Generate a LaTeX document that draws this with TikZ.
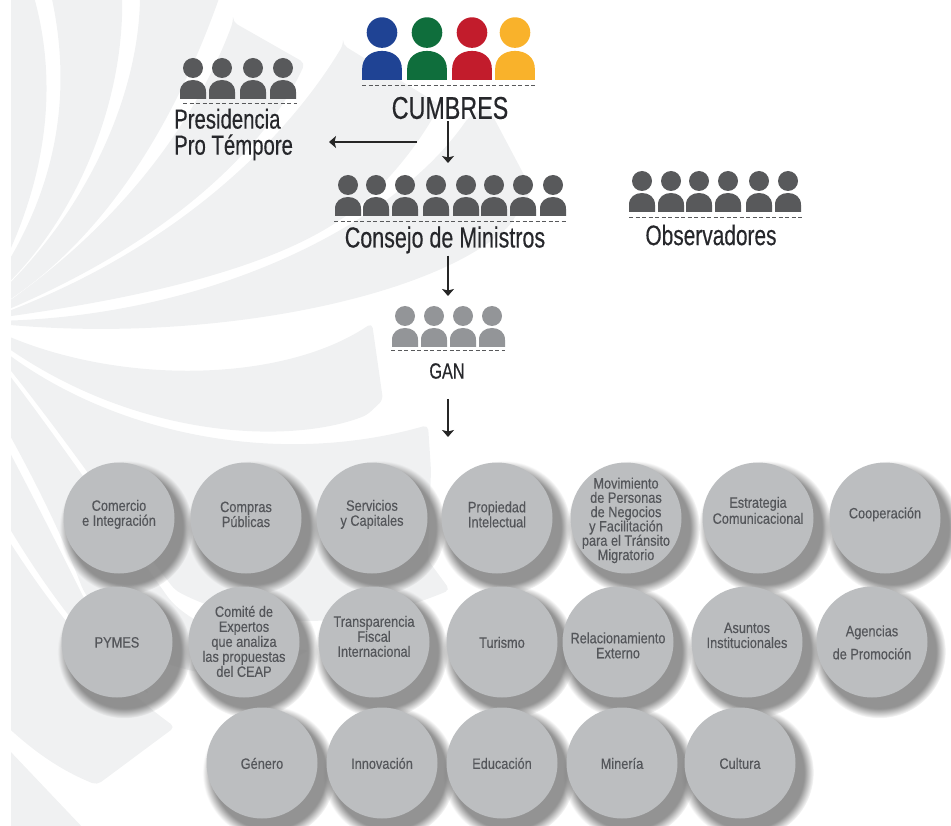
\documentclass[tikz,border=0pt]{standalone}
\usepackage{fontspec}
\usepackage{xcolor}
\setmainfont{Liberation Sans}[FakeStretch=0.74, FakeBold=0.35]
\newfontfamily\lblfont{Liberation Sans}[FakeStretch=0.85, FakeBold=0.3]
\usetikzlibrary{
    arrows.meta,
    shadows,
    positioning
}
\definecolor{raygray}{HTML}{F0F1F2}
\definecolor{circgray}{HTML}{BCBEC0}
\definecolor{labgray}{HTML}{54565A}
\definecolor{titledark}{HTML}{26272B}
\definecolor{pdark}{HTML}{58595B}
\definecolor{plight}{HTML}{939598}
\definecolor{pblue}{HTML}{1F4394}
\definecolor{pgreen}{HTML}{0F6E3C}
\definecolor{pred}{HTML}{C21C2C}
\definecolor{pyellow}{HTML}{F9B22B}
\newcommand{\circlbl}[2]{\raisebox{#1}[0pt][0pt]{\parbox{110pt}{\centering\lineskiplimit=-10pt #2}}}
\tikzset{ray/.style={fill=raygray, draw=none, rounded corners=5pt}}
\tikzset{person/.pic={\path[pic actions] (0, -31) circle[radius=10]; \path[pic actions] (-13, 0) -- (-13, -7) .. controls (-13, -15) and (-7, -19) .. (0, -19) .. controls (7, -19) and (13, -15) .. (13, -7) -- (13, 0) -- cycle;}}
\tikzset{rule/.style={dash pattern=on 4pt off 2.5pt, line width=1pt, draw=pdark}}
\tikzset{title/.style={inner sep=2pt, text=titledark, align=left}}
\tikzset{flow/.style={-{Stealth[length=7pt, width=12pt, inset=1.5pt]}, line width=1.1pt, draw=black!85}}
\tikzset{wg/.style={circle, minimum size=111pt, inner sep=0pt, fill=circgray, text=labgray, font=\lblfont\fontsize{15}{15}\selectfont, circular drop shadow={shadow xshift=6pt, shadow yshift=-8pt, shadow scale=1.2, opacity=.85}}}

\begin{document}
\begin{tikzpicture}[x=1pt, y=-1pt]
    \useasboundingbox (0, 0) rectangle (951, 826);

    \begin{scope}
    \clip (11, 0) rectangle (951, 826);
    \fill[ray] (-10, -10) -- (32, -10) .. controls (58, 80) and (50, 180) .. (-10, 290) -- cycle;
    \fill[ray] (50, -10) -- (122, -10) .. controls (125, 110) and (70, 230) .. (-10, 300) -- (-10, 290) .. controls (65, 180) and (70, 80) .. cycle;
    \fill[ray] (140, -10) -- (222, -10) .. controls (180, 110) and (110, 240) .. (-10, 312) -- (-10, 302) .. controls (90, 210) and (140, 90) .. cycle;
    \fill[ray] (233, 22) -- (305, 63) .. controls (275, 130) and (190, 235) .. (-10, 317) -- (-10, 314) .. controls (130, 220) and (200, 110) .. cycle;
    \fill[ray] (343, 45) -- (440, 105) .. controls (410, 160) and (370, 200) .. (340, 220) .. controls (260, 272) and (130, 300) .. (-10, 319) -- (-10, 318) .. controls (190, 245) and (295, 125) .. cycle;
    \fill[ray] (487, 105) -- (532, 190) -- (510, 225) .. controls (430, 300) and (200, 345) .. (-10, 323) -- (-10, 321) .. controls (200, 318) and (390, 230) .. (468, 118) -- cycle;
    \fill[ray] (-10, 328) .. controls (110, 385) and (280, 385) .. (372, 323) -- (383, 400) -- (367, 415) .. controls (290, 445) and (130, 440) .. (-10, 335) -- cycle;
    \fill[ray] (-10, 340) .. controls (100, 430) and (270, 470) .. (428, 425) -- (431, 470) -- (428, 560) -- (450, 590) .. controls (330, 640) and (230, 620) .. (175, 590) .. controls (120, 520) and (60, 430) .. (-10, 345) -- cycle;
    \fill[ray] (-10, 350) .. controls (60, 440) and (120, 530) .. (170, 600) .. controls (200, 630) and (260, 650) .. (310, 650) -- (250, 680) .. controls (170, 670) and (130, 660) .. (83, 590) .. controls (60, 530) and (30, 470) .. (-10, 400) -- cycle;
    \fill[ray] (-10, 415) .. controls (30, 490) and (60, 550) .. (85, 600) -- (150, 695) .. controls (100, 660) and (50, 600) .. (-10, 495) -- cycle;
    \fill[ray] (-10, 510) .. controls (50, 610) and (110, 680) .. (175, 727) -- (97, 785) .. controls (60, 770) and (30, 750) .. (-10, 710) -- cycle;
    \fill[raygray] (-10, 730) -- (85, 830) -- (-10, 830) -- cycle;
    \end{scope}

    \foreach \x/\c in {382/pblue, 427/pgreen, 472/pred, 515/pyellow}
        \pic[fill=\c, scale=1.53] at (\x, 80) {person};
    \foreach \x in {193, 222, 253, 283}
        \pic[fill=pdark] at (\x, 99) {person};
    \foreach \x in {348, 376, 405, 436, 466, 494, 523, 553}
        \pic[fill=pdark] at (\x, 216) {person};
    \foreach \x in {642, 671, 699, 728, 759, 788}
        \pic[fill=pdark] at (\x, 212) {person};
    \foreach \x in {405, 434, 463, 492}
        \pic[fill=plight] at (\x, 347) {person};

    \draw[rule] (362, 86) -- (535, 86);
    \draw[rule] (183, 104) -- (297, 104);
    \draw[rule] (334, 222) -- (566, 222);
    \draw[rule] (629, 218) -- (802, 218);
    \draw[rule] (391, 351) -- (505, 351);

    \node[title, font=\fontsize{31.5}{31}\selectfont] (cumbres) at (450, 108) {CUMBRES};
    \node[title, font=\fontsize{27.5}{26}\selectfont, anchor=west] (presidencia) at (172, 134.5) {Presidencia\\Pro Témpore};
    \node[title, font=\fontsize{29}{27}\selectfont] (consejo) at (445, 240) {Consejo de Ministros};
    \node[title, font=\fontsize{28.2}{27}\selectfont] (observadores) at (711, 235) {Observadores};
    \node[title, font=\fontsize{22}{21}\selectfont] (gan) at (447, 371) {GAN};

    \coordinate (prestail) at (417, 142);
    \coordinate (prestip) at (329, 142);
    \coordinate (consejotop) at (448, 163);
    \coordinate (gantop) at (448, 296);
    \coordinate (grouptop) at (448, 437);

    \draw[flow] (prestail) -- (prestip);
    \draw[flow] (cumbres.south -| consejotop) -- (consejotop);
    \draw[flow] (consejo.south -| gantop) -- (gantop);
    \draw[flow, shorten <=18pt] (gan.south -| grouptop) -- (grouptop);

    \node[wg] (comercio) at (119, 518) {\circlbl{0pt}{Comercio\\e Integración}};
    \node[wg] (compras) at (246, 518) {\circlbl{0pt}{Compras\\Públicas}};
    \node[wg] (servicios) at (372, 518) {\circlbl{0pt}{Servicios\\y Capitales}};
    \node[wg] (propiedad) at (497, 518) {\circlbl{0pt}{Propiedad\\Intelectual}};
    \node[wg] (movimiento) at (626, 518) {\circlbl{-6pt}{Movimiento\\[-.7pt]de Personas\\[-.7pt]de Negocios\\[-.7pt]y Facilitación\\[-.7pt]para el Tránsito\\[-.7pt]Migratorio}};
    \node[wg] (estrategia) at (758, 518) {\circlbl{4pt}{Estrategia\\[1pt]Comunicacional}};
    \node[wg] (cooperacion) at (885, 518) {\circlbl{0pt}{Cooperación}};

    \node[wg] (pymes) at (117, 642) {\circlbl{-4pt}{PYMES}};
    \node[wg] (comite) at (244, 642) {\circlbl{-3pt}{Comité de\\Expertos\\que analiza\\las propuestas\\del CEAP}};
    \node[wg] (transparencia) at (374, 642) {\circlbl{2pt}{Transparencia\\Fiscal\\Internacional}};
    \node[wg] (turismo) at (502, 642) {\circlbl{-4pt}{Turismo}};
    \node[wg] (relacionamiento) at (618, 642) {\circlbl{-7pt}{Relacionamiento\\Externo}};
    \node[wg] (asuntos) at (747, 642) {\circlbl{3pt}{Asuntos\\Institucionales}};
    \node[wg] (agencias) at (872, 642) {\circlbl{-4pt}{Agencias\\[8pt]de Promoción}};

    \node[wg] (genero) at (262, 763) {\circlbl{-4pt}{Género}};
    \node[wg] (innovacion) at (382, 763) {\circlbl{-4pt}{Innovación}};
    \node[wg] (educacion) at (502, 763) {\circlbl{-4pt}{Educación}};
    \node[wg] (mineria) at (622, 763) {\circlbl{-4pt}{Minería}};
    \node[wg] (cultura) at (740, 763) {\circlbl{-4pt}{Cultura}};
\end{tikzpicture}
\end{document}
